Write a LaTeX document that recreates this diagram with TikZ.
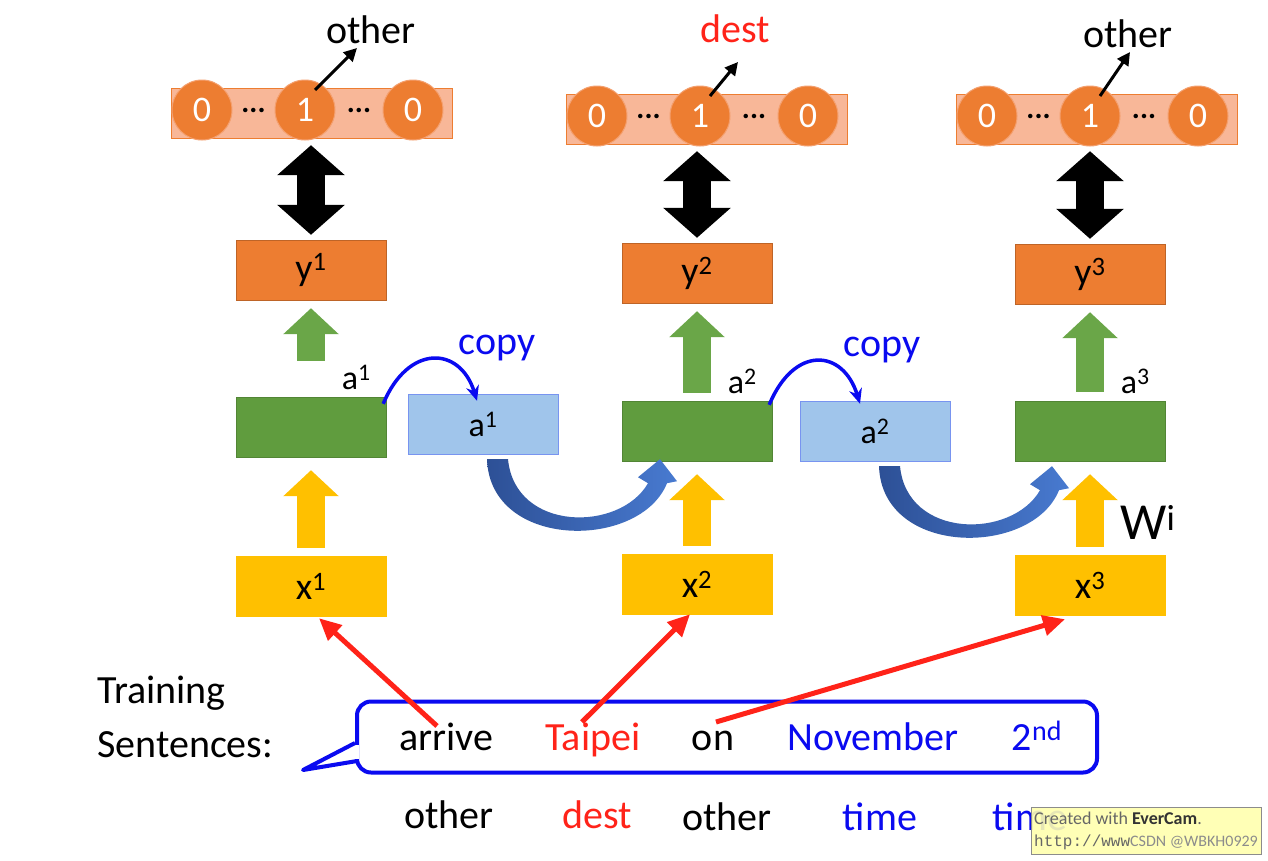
\documentclass[tikz,border=0pt]{standalone}
\usepackage{fontspec}
\setmainfont{Carlito}
\newfontfamily\stampmono{Liberation Mono}
\usetikzlibrary{arrows.meta,calc}

\definecolor{outorange}{RGB}{237,125,49}
\definecolor{barorange}{RGB}{248,183,152}
\definecolor{hidgreen}{RGB}{96,156,62}
\definecolor{arrowgreen}{RGB}{106,166,72}
\definecolor{memoblue}{RGB}{160,197,235}
\definecolor{inyellow}{RGB}{255,192,0}
\definecolor{arcdark}{RGB}{45,80,150}
\definecolor{arclight}{RGB}{72,122,208}
\definecolor{labred}{RGB}{255,35,25}
\definecolor{copyblue}{RGB}{10,10,240}
\definecolor{evercam}{RGB}{255,255,175}

\begin{document}
\begin{tikzpicture}[
    x=1pt, y=-1pt,
    % Styles
    word/.style={font=\fontsize{40}{48}\selectfont, inner sep=0pt},
    layerbox/.style={minimum width=150pt, minimum height=60pt, inner sep=0pt, font=\fontsize{38}{44}\selectfont},
    outbox/.style={layerbox, fill=outorange, draw=outorange!80!black},
    hidbox/.style={layerbox, fill=hidgreen, draw=hidgreen!85!black},
    memobox/.style={layerbox, fill=memoblue, draw=memoblue!75!blue},
    inbox/.style={layerbox, fill=inyellow, draw=inyellow},
    onehot/.style={minimum width=281pt, minimum height=50pt, inner sep=0pt, fill=barorange, draw=outorange},
    bit/.style={circle, minimum size=60pt, inner sep=0pt, fill=outorange, draw=barorange!60!outorange, line width=1pt, text=white, font=\fontsize{36}{40}\selectfont},
    dual-arrow/.style={line width=28pt, {Triangle[length=30pt,width=66pt]}-{Triangle[length=30pt,width=66pt]}},
    up-arrow/.style={line width=28pt, -{Triangle[length=26pt,width=54pt]}},
    pick-arrow/.style={line width=3pt, -{Triangle[length=13pt,width=13pt]}},
    feed-arrow/.style={line width=5pt, labred, -{Triangle[length=22pt,width=20pt]}},
    copy-arrow/.style={line width=3.5pt, copyblue, -{Stealth[length=15pt,width=13pt]}},
]

\fill[white] (0,0) rectangle (1268,860);
\useasboundingbox (0,0) rectangle (1268,860);

% Layers of the three time steps
\foreach \n/\cx/\yy/\gy/\xy/\gs in {1/311/270/427/586/36, 2/697/273/431/584/8, 3/1090/274/431/585/9} {
    \node[outbox] (y\n) at (\cx,\yy) {y\textsuperscript{\n}};
    \node[hidbox] (g\n) at (\cx,\gy) {};
    \node[inbox] (x\n) at (\cx,\xy) {x\textsuperscript{\n}};
    \node[font=\fontsize{34}{40}\selectfont, inner sep=0pt] (a\n) at ([shift={(-30,-19)}]g\n.north east) {a\textsuperscript{\n}};
    \draw[up-arrow, arrowgreen, shorten <=\gs pt, shorten >=8pt] (g\n.north) -- (y\n.south);
    \draw[up-arrow, inyellow, shorten <=8pt, shorten >=13pt] (x\n.north) -- (g\n.south);
}

% One-hot outputs
\foreach \n/\bx/\by/\lab/\lc/\lx/\ly/\tx/\ty in {1/312/113/other/black/371/43/357/48, 2/707/119/dest/labred/735/42/738/62, 3/1097/119/other/black/1128/47/1130/52} {
    \node[onehot] (bar\n) at (\bx,\by) {};
    \node[bit] (bit\n a) at (\bx-110,\by-3) {0};
    \node[bit] (bit\n b) at (\bx-7,\by-3) {1};
    \node[bit] (bit\n c) at (\bx+101,\by-3) {0};
    \node[font=\fontsize{30}{30}\selectfont\bfseries] at ($(bit\n a)!0.5!(bit\n b)$) {...};
    \node[font=\fontsize{30}{30}\selectfont\bfseries] at ($(bit\n b)!0.5!(bit\n c)$) {...};
    \node[word, text=\lc, anchor=base] (lab\n) at (\lx,\ly) {\lab};
    \coordinate (tip\n) at (\tx,\ty);
    \draw[pick-arrow] ([shift={(10,-20)}]bit\n b.center) -- (tip\n);
    \draw[dual-arrow, shorten <=7pt, shorten >=5pt] (bar\n.south -| y\n.north) -- (y\n.north);
}

% Copied memory
\node[memobox] (b1) at (483,424) {\fontsize{34}{40}\selectfont a\textsuperscript{1}};
\node[memobox] (b2) at (875,431) {\fontsize{34}{40}\selectfont a\textsuperscript{2}};

\draw[copy-arrow] ([shift={(-3,7)}]g1.north east) .. controls +(25,-60) and +(-17,-55) .. ([shift={(-6,7)}]b1.north);
\draw[copy-arrow] ([shift={(-3,4)}]g2.north east) .. controls +(25,-60) and +(-17,-55) .. ([shift={(-15,3)}]b2.north);
\node[word, text=copyblue] (copy1) at (497,348) {copy};
\node[word, text=copyblue] (copy2) at (882,350) {copy};

% Memory fed into the next step
\foreach \n in {1,2} {
    \begin{scope}[shift={(b\n.south)}]
        \shade[left color=arcdark, right color=arclight]
            (4,5) .. controls (7,96) and (157,96) .. (184,29)
            -- (194,27) -- (177,5) -- (155,23) -- (165,29)
            .. controls (137,78) and (32,78) .. (25,5) -- cycle;
    \end{scope}
}

\node[font=\fontsize{52}{56}\selectfont, inner sep=0pt] (wi) at (1148,522) {W\textsuperscript{i}};

% Training sentence
\node[word, anchor=base west] (train) at (97,703) {Training};
\node[word, anchor=base west] (sent) at (97,757) {Sentences:};

\node[draw=copyblue, line width=4pt, rounded corners=14pt, minimum width=740pt, minimum height=71pt] (bubble) at (727,737) {};
\fill[white] ([shift={(-4,8)}]bubble.west) rectangle ([shift={(4,22)}]bubble.west);
\draw[copyblue, line width=4pt, line join=round] ([shift={(0,6)}]bubble.west) -- ([shift={(-52,33)}]bubble.west) -- ([shift={(2,24)}]bubble.west);

\node[word, anchor=base] (w-arrive) at (446,750) {arrive};
\node[word, anchor=base, text=labred] (w-taipei) at (593,750) {Taipei};
\node[word, anchor=base] (w-on) at (713,750) {on};
\node[word, anchor=base, text=copyblue] (w-nov) at (873,750) {November};
\node[word, anchor=base, text=copyblue] (w-2nd) at (1037,750) {2\textsuperscript{nd}};

\draw[feed-arrow] ([shift={(-9,-24)}]w-arrive.base) -- ([shift={(8,2)}]x1.south);
\draw[feed-arrow] ([shift={(-11,-28)}]w-taipei.base) -- ([shift={(-7,0)}]x2.south);
\draw[feed-arrow] ([shift={(3,-28)}]w-on.base) -- ([shift={(-25,4)}]x3.south);

% Slot labels
\node[word, anchor=base] (s1) at (449,828) {other};
\node[word, anchor=base, text=labred] (s2) at (597,828) {dest};
\node[word, anchor=base] (s3) at (727,830) {other};
\node[word, anchor=base, text=copyblue] (s4) at (880,830) {time};
\node[word, anchor=base, text=copyblue] (s5) at (1030,830) {time};

% Recorder stamp
\node[fill=evercam, fill opacity=0.9, text opacity=1, draw=black!45, minimum width=222pt, minimum height=47pt, align=left, inner sep=3pt,
      font=\fontsize{18}{22}\selectfont, text=black!60] (stamp) at (1146,831)
    {Created with {\color{black!80}\bfseries EverCam}.\\{\stampmono\fontsize{16}{22}\selectfont http://www}{\color{black!45}\fontsize{16}{22}\selectfont CSDN @WBKH0929}};

\end{tikzpicture}
\end{document}
